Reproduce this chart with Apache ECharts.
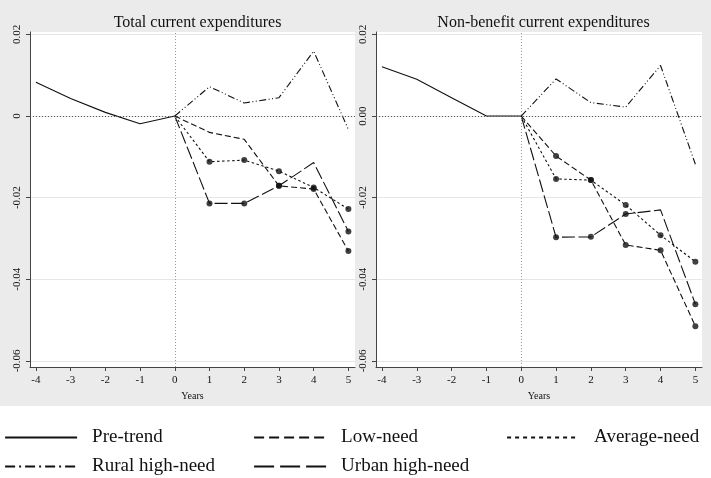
<!DOCTYPE html>
<html>
<head>
<meta charset="utf-8">
<script src="https://cdn.jsdelivr.net/npm/echarts@6/dist/echarts.min.js"></script>
<style>
html,body{margin:0;padding:0;background:#fff;}
#chart{width:711px;height:478px;}
</style>
</head>
<body>
<div id="chart"></div>
<script>
// ---- data ----
var years = [-4, -3, -2, -1, 0, 1, 2, 3, 4, 5];
var panelTitles = ["Total current expenditures", "Non-benefit current expenditures"];
var seriesNames = ["Pre-trend", "Low-need", "Average-need", "Rural high-need", "Urban high-need"];
var yTicks = [-0.06, -0.04, -0.02, 0, 0.02];
var xTicks = [-4, -3, -2, -1, 0, 1, 2, 3, 4, 5];

// Total current expenditures
var preTrendTotal = [0.0083, 0.0043, 0.0009, -0.0019, 0, null, null, null, null, null];
var lowTotal      = [null, null, null, null, 0, -0.0040, -0.0057, -0.0171, -0.0179, -0.0331];
var avgTotal      = [null, null, null, null, 0, -0.0112, -0.0108, -0.0135, -0.0175, -0.0228];
var ruralTotal    = [null, null, null, null, 0, 0.0072, 0.0032, 0.0045, 0.0159, -0.0033];
var urbanTotal    = [null, null, null, null, 0, -0.0214, -0.0214, -0.0171, -0.0114, -0.0283];
// significance markers (1 = dot drawn)
var lowTotalSig   = [0, 0, 0, 0, 0, 0, 0, 1, 1, 1];
var avgTotalSig   = [0, 0, 0, 0, 0, 1, 1, 1, 1, 1];
var urbanTotalSig = [0, 0, 0, 0, 0, 1, 1, 1, 0, 1];

// Non-benefit current expenditures
var preTrendNB = [0.0121, 0.0090, 0.0045, 0, 0, null, null, null, null, null];
var lowNB      = [null, null, null, null, 0, -0.0098, -0.0157, -0.0316, -0.0329, -0.0515];
var avgNB      = [null, null, null, null, 0, -0.0154, -0.0157, -0.0218, -0.0292, -0.0357];
var ruralNB    = [null, null, null, null, 0, 0.0091, 0.0033, 0.0022, 0.0124, -0.0118];
var urbanNB    = [null, null, null, null, 0, -0.0297, -0.0296, -0.0240, -0.0230, -0.0461];
var lowNBSig   = [0, 0, 0, 0, 0, 1, 1, 1, 1, 1];
var avgNBSig   = [0, 0, 0, 0, 0, 1, 1, 1, 1, 1];
var urbanNBSig = [0, 0, 0, 0, 0, 1, 1, 1, 0, 1];

// ---- build ----
var FONT = "Liberation Serif";
var INK = "#111";
var dashes = {
  "Pre-trend": "solid",
  "Low-need": [6, 3],
  "Average-need": [2.5, 2.5],
  "Rural high-need": [7, 2.5, 1, 2.5, 1, 2.5],
  "Urban high-need": [13, 3.5]
};
var legendDashes = {
  "Pre-trend": "solid",
  "Low-need": [10, 5],
  "Average-need": [4, 4],
  "Rural high-need": [10, 4, 2, 4],
  "Urban high-need": [20, 6]
};
var panels = [
  {vals: [preTrendTotal, lowTotal, avgTotal, ruralTotal, urbanTotal],
   sig: [null, lowTotalSig, avgTotalSig, null, urbanTotalSig]},
  {vals: [preTrendNB, lowNB, avgNB, ruralNB, urbanNB],
   sig: [null, lowNBSig, avgNBSig, null, urbanNBSig]}
];

function pairs(vals) {
  var out = [];
  for (var i = 0; i < years.length; i++) if (vals[i] !== null) out.push([years[i], vals[i]]);
  return out;
}
function sigPairs(vals, sig) {
  var out = [];
  for (var i = 0; i < years.length; i++) if (sig[i] && vals[i] !== null) out.push([years[i], vals[i]]);
  return out;
}

var grids = [
  {left: 30, right: 356, top: 32, bottom: 111, show: true, backgroundColor: "#fff", borderWidth: 0},
  {left: 376, right: 9, top: 32, bottom: 111, show: true, backgroundColor: "#fff", borderWidth: 0}
];
var xAxes = [], yAxes = [], series = [], titles = [];
var centers = [192.5, 538.5];
for (var p = 0; p < 2; p++) {
  titles.push({text: panelTitles[p], left: centers[p], top: 10, textAlign: "center",
    textStyle: {fontFamily: FONT, fontSize: 16, fontWeight: "normal", color: INK}});
  xAxes.push({type: "value", gridIndex: p, min: -4.17, max: 5.19,
    name: "Years", nameLocation: "middle", nameGap: 23,
    nameTextStyle: {fontFamily: FONT, fontSize: 10, color: INK},
    axisLine: {show: true, onZero: false, lineStyle: {color: "#444", width: 1}},
    axisTick: {show: true, length: 4, customValues: xTicks, lineStyle: {color: "#444"}},
    axisLabel: {customValues: xTicks, fontFamily: FONT, fontSize: 11, color: INK, margin: 8},
    splitLine: {show: false}});
  yAxes.push({type: "value", gridIndex: p, min: -0.0615, max: 0.0206,
    axisLine: {show: true, onZero: false, lineStyle: {color: "#444", width: 1}},
    axisTick: {show: true, length: 4, customValues: yTicks, lineStyle: {color: "#444"}},
    axisLabel: {customValues: yTicks, rotate: 90, fontFamily: FONT, fontSize: 11, color: INK, margin: 7,
      formatter: (function (pp) { return function (v) {
        if (Math.abs(v) < 1e-9) return pp === 0 ? "0" : "0.00";
        return v.toFixed(2);
      }; })(p)},
    splitLine: {show: true, lineStyle: {color: "#e6e6e6", width: 1}}});
  for (var s = 0; s < seriesNames.length; s++) {
    var nm = seriesNames[s];
    var ser = {type: "line", name: nm, xAxisIndex: p, yAxisIndex: p,
      data: pairs(panels[p].vals[s]), symbol: "none", silent: true, animation: false,
      lineStyle: {color: INK, width: 1.1, type: dashes[nm]}, itemStyle: {color: INK}, z: 3};
    if (s === 0) {
      ser.markLine = {silent: true, symbol: "none", label: {show: false}, animation: false,
        data: [
          {xAxis: 0, lineStyle: {color: "#999", type: [1, 2], width: 1}},
          {yAxis: 0, lineStyle: {color: "#555", type: [1, 2], width: 1}}
        ]};
    }
    series.push(ser);
    if (panels[p].sig[s]) {
      series.push({type: "scatter", name: nm + " sig " + p, xAxisIndex: p, yAxisIndex: p,
        data: sigPairs(panels[p].vals[s], panels[p].sig[s]), symbol: "circle", symbolSize: 6,
        itemStyle: {color: INK}, silent: true, animation: false, z: 4});
    }
  }
}

function legendAt(name, left, top) {
  return {data: [name], left: left, top: top, orient: "horizontal", itemWidth: 72, itemHeight: 14,
    itemGap: 0, selectedMode: false, padding: 0,
    itemStyle: {opacity: 0},
    lineStyle: {width: 2.2, type: legendDashes[name], color: INK},
    textStyle: {fontFamily: FONT, fontSize: 19, color: INK, padding: [0, 0, 0, 10]}};
}
var legends = [
  legendAt("Pre-trend", 4, 428),
  legendAt("Low-need", 253, 428),
  legendAt("Average-need", 506, 428),
  legendAt("Rural high-need", 4, 457),
  legendAt("Urban high-need", 253, 457)
];

var chart = echarts.init(document.getElementById("chart"), null, {renderer: "canvas"});
chart.setOption({
  backgroundColor: "#fff",
  animation: false,
  graphic: [{type: "rect", z: -10, silent: true, shape: {x: 0, y: 0, width: 711, height: 406},
    style: {fill: "#ebebeb"}}],
  title: titles,
  grid: grids,
  xAxis: xAxes,
  yAxis: yAxes,
  legend: legends,
  series: series
});
</script>
</body>
</html>
